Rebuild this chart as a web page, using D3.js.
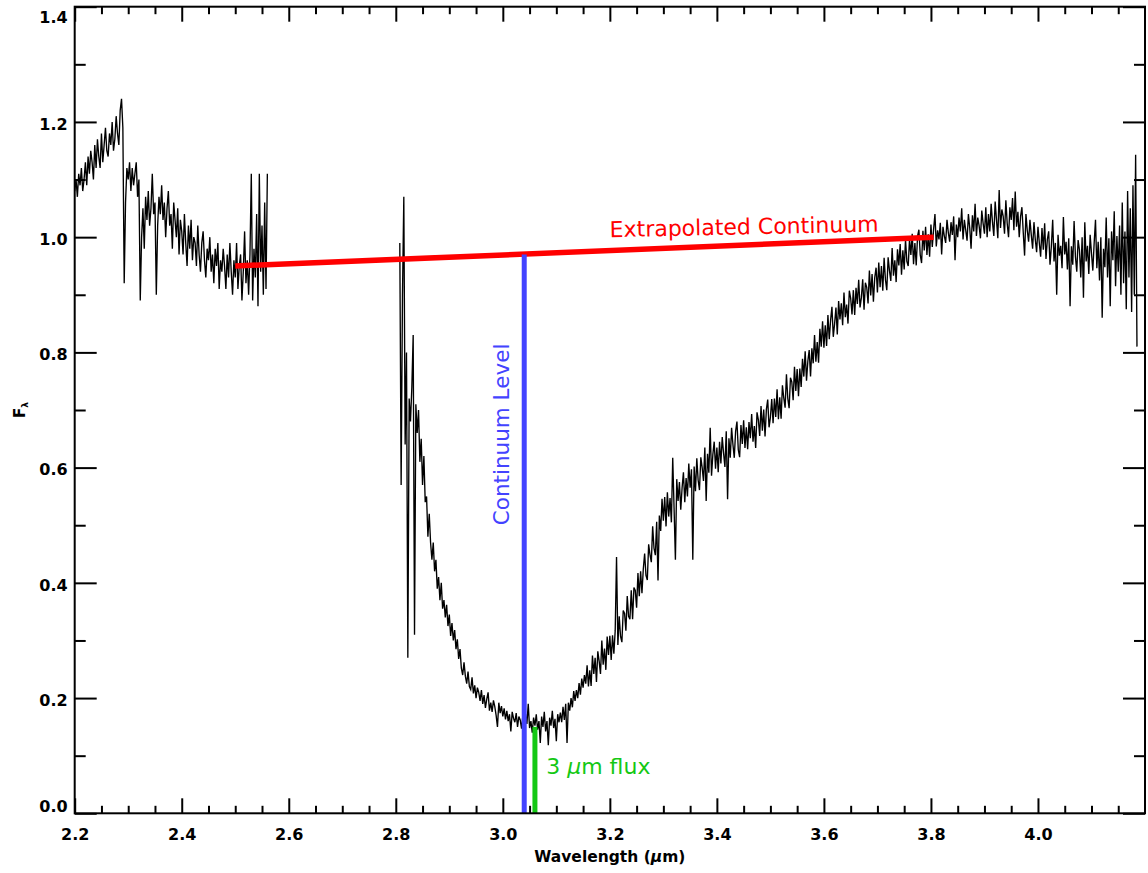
<!DOCTYPE html>
<html>
<head>
<meta charset="utf-8">
<script src="https://cdn.jsdelivr.net/npm/d3@7"></script>
<style>
  html, body { margin: 0; padding: 0; background: #ffffff; }
  svg { display: block; }
</style>
</head>
<body>
<svg id="chart" width="1148" height="873"></svg>
<script>
// ---------------- data ----------------
const xMajorTicks = [2.2, 2.4, 2.6, 2.8, 3.0, 3.2, 3.4, 3.6, 3.8, 4.0];
const yMajorTicks = [0.0, 0.2, 0.4, 0.6, 0.8, 1.0, 1.2, 1.4];

// short-wavelength spectrum segment (uniform wavelength grid)
const seg1Start = 2.2;
const seg1Step = 0.0025;
const seg1Flux = [
  1.08,1.10,1.07,1.11,1.09,1.12,1.08,1.10,1.13,1.09,
  1.14,1.11,1.15,1.13,1.10,1.16,1.12,1.17,1.14,1.12,
  1.18,1.13,1.16,1.19,1.15,1.14,1.18,1.16,1.20,1.15,
  1.17,1.21,1.18,1.16,1.22,1.24,1.19,0.92,1.06,1.12,
  1.10,1.13,1.08,1.12,1.09,1.11,1.13,1.07,1.10,0.89,
  1.00,1.05,0.98,1.07,1.03,1.08,1.02,1.05,1.11,1.04,
  1.06,0.90,1.02,1.07,1.04,1.09,1.03,1.06,1.00,1.05,
  1.08,1.02,1.04,0.98,1.06,1.03,1.00,1.05,0.97,1.03,
  1.01,0.97,1.04,0.99,0.95,1.02,0.98,1.03,0.96,1.00,
  0.99,0.95,1.02,0.97,0.94,0.99,1.01,0.96,0.93,0.98,
  0.96,1.00,0.94,0.97,0.92,0.98,0.95,0.99,0.91,0.96,
  0.94,0.98,0.95,0.91,0.97,0.93,0.99,0.94,0.90,0.96,
  0.93,0.99,0.91,0.95,0.97,0.89,0.94,1.01,0.92,0.96,
  0.90,0.97,1.11,0.89,0.98,0.93,1.04,0.88,1.11,0.94,
  1.02,0.90,1.06,0.91,1.11
];

// long-wavelength spectrum segment (uniform wavelength grid)
const seg2Start = 2.8075;
const seg2Step = 0.0025;
const seg2Flux = [
  0.99,0.57,0.90,1.07,0.64,0.80,0.27,0.72,0.68,0.74,0.83,0.31,0.71,0.66,0.70,0.61,0.65,0.57,0.62,0.54,
  0.55,0.48,0.52,0.47,0.44,0.47,0.42,0.44,0.39,0.41,0.37,0.40,0.355,0.37,0.34,0.362,0.325,0.345,0.308,0.330,
  0.300,0.318,0.285,0.302,0.268,0.285,0.252,0.240,0.262,0.238,0.225,0.246,0.220,0.215,0.236,0.208,0.222,0.200,0.218,0.210,
  0.195,0.214,0.190,0.205,0.183,0.198,0.210,0.178,0.192,0.176,0.196,0.185,0.170,0.150,0.192,0.174,0.186,0.168,0.182,0.163,
  0.178,0.160,0.172,0.142,0.176,0.165,0.158,0.174,0.150,0.168,0.162,0.147,0.170,0.115,0.172,0.155,0.190,0.148,0.160,0.140,
  0.166,0.152,0.172,0.145,0.160,0.122,0.168,0.150,0.176,0.142,0.160,0.118,0.166,0.152,0.178,0.148,0.164,0.125,0.172,0.158,
  0.175,0.158,0.185,0.162,0.190,0.122,0.192,0.178,0.200,0.184,0.212,0.195,0.214,0.200,0.226,0.206,0.234,0.218,0.240,0.225,
  0.257,0.220,0.248,0.221,0.274,0.242,0.270,0.228,0.281,0.264,0.242,0.300,0.258,0.286,0.249,0.307,0.275,0.308,0.266,0.309,
  0.277,0.317,0.445,0.292,0.342,0.307,0.297,0.352,0.347,0.317,0.377,0.342,0.337,0.387,0.337,0.392,0.387,0.357,0.417,0.377,
  0.420,0.382,0.424,0.451,0.413,0.405,0.467,0.449,0.436,0.498,0.460,0.448,0.506,0.404,0.517,0.490,0.546,0.508,0.549,0.498,
  0.557,0.515,0.547,0.505,0.617,0.530,0.440,0.580,0.542,0.575,0.527,0.565,0.592,0.540,0.582,0.550,0.607,0.565,0.597,0.440,
  0.602,0.559,0.616,0.578,0.561,0.618,0.600,0.577,0.635,0.542,0.624,0.591,0.669,0.586,0.623,0.645,0.598,0.635,0.592,0.645,
  0.607,0.653,0.625,0.601,0.663,0.545,0.651,0.617,0.669,0.640,0.617,0.663,0.680,0.631,0.618,0.674,0.641,0.682,0.634,0.670,
  0.632,0.679,0.651,0.693,0.645,0.672,0.634,0.696,0.683,0.655,0.707,0.664,0.701,0.654,0.701,0.718,0.670,0.687,0.719,0.677,
  0.720,0.688,0.736,0.684,0.722,0.685,0.743,0.721,0.704,0.762,0.720,0.703,0.756,0.749,0.717,0.775,0.733,0.771,0.724,0.772,
  0.740,0.789,0.758,0.802,0.751,0.785,0.804,0.758,0.807,0.781,0.830,0.784,0.818,0.782,0.841,0.810,0.854,0.808,0.847,0.811,
  0.865,0.823,0.856,0.879,0.827,0.850,0.878,0.831,0.889,0.857,0.885,0.847,0.904,0.861,0.883,0.850,0.907,0.894,0.866,0.908,
  0.865,0.912,0.884,0.926,0.878,0.895,0.927,0.874,0.921,0.913,0.885,0.942,0.899,0.936,0.888,0.930,0.947,0.904,0.956,0.913,
  0.950,0.907,0.964,0.926,0.908,0.965,0.942,0.924,0.981,0.933,0.960,0.922,0.979,0.951,0.988,0.935,0.977,0.944,0.996,0.958,
  0.950,0.997,0.969,1.006,0.953,0.990,0.951,1.002,1.013,0.969,0.955,1.011,0.977,1.018,0.969,1.005,0.966,1.022,0.983,1.014,
  1.040,0.984,1.012,0.996,1.025,0.970,1.018,1.002,0.990,1.030,1.008,0.992,1.026,1.004,1.036,0.960,1.022,1.000,1.034,1.010,
  1.050,0.996,1.030,1.012,0.994,1.040,1.016,0.980,1.038,1.010,1.058,1.002,1.034,1.020,0.998,1.046,1.024,1.006,1.052,1.000,
  1.040,1.010,1.058,1.026,1.002,1.062,1.030,0.998,1.082,1.016,1.048,1.036,1.006,1.064,1.024,1.000,1.052,1.030,1.068,1.012,
  1.079,1.018,1.044,1.000,1.036,1.052,1.008,0.968,1.040,1.012,0.992,1.030,1.004,0.980,1.026,0.996,0.974,1.018,0.990,0.966,
  1.016,0.978,1.024,0.962,0.996,1.010,0.952,0.984,1.030,0.958,0.990,0.900,1.004,0.968,0.985,0.946,1.035,0.970,0.992,0.944,
  0.998,0.880,0.984,0.952,1.028,0.966,0.940,0.995,0.978,0.930,1.000,0.895,1.026,0.958,0.985,0.936,1.004,0.972,0.942,0.990,
  1.030,0.946,0.992,0.925,1.000,0.860,0.980,0.948,1.034,0.930,0.998,0.880,1.010,0.960,1.045,0.915,1.002,0.940,1.020,0.900,
  1.060,0.920,1.010,0.875,1.080,0.930,1.050,0.870,1.090,0.900,1.143,0.810
];

// annotation lines (data units)
const continuumWavelengths = [2.50, 3.805];
const continuumFlux = [0.95, 1.00];
const continuumLevelWavelength = 3.04;
const continuumLevelFlux = 0.97;
const fluxMarkWavelength = 3.06;
const fluxMarkFlux = 0.15;

// ---------------- drawing ----------------
const svg = d3.select("#chart");
const plot = { left: 74.7, right: 1145, top: 6.7, bottom: 813.3 };

const x = d3.scaleLinear().domain([2.2, 4.2]).range([plot.left, plot.right]);
const y = d3.scaleLinear().domain([0, 1.4]).range([plot.bottom, plot.top]);

const tickFont = "'DejaVu Sans', sans-serif";

svg.append("defs").append("clipPath").attr("id", "clip")
  .append("rect")
  .attr("x", plot.left).attr("y", plot.top)
  .attr("width", plot.right - plot.left).attr("height", plot.bottom - plot.top);

// spectrum
const seg1 = seg1Flux.map((f, i) => [seg1Start + i * seg1Step, f]);
const seg2 = seg2Flux.map((f, i) => [seg2Start + i * seg2Step, f]);
const line = d3.line().x(d => x(d[0])).y(d => y(d[1]));

const specG = svg.append("g").attr("clip-path", "url(#clip)");
[seg1, seg2].forEach(seg => {
  specG.append("path")
    .datum(seg)
    .attr("d", line)
    .attr("fill", "none")
    .attr("stroke", "#000")
    .attr("stroke-width", 1.35)
    .attr("stroke-linejoin", "miter");
});

// extrapolated continuum (red)
svg.append("path")
  .datum(continuumWavelengths.map((w, i) => [w, continuumFlux[i]]))
  .attr("d", line)
  .attr("stroke", "#ff0000")
  .attr("stroke-width", 5.5)
  .attr("fill", "none");

// continuum level (blue)
svg.append("line")
  .attr("x1", x(continuumLevelWavelength)).attr("x2", x(continuumLevelWavelength))
  .attr("y1", y(0)).attr("y2", y(continuumLevelFlux))
  .attr("stroke", "#4343ff").attr("stroke-width", 5);

// 3 micron flux (green)
svg.append("line")
  .attr("x1", x(fluxMarkWavelength)).attr("x2", x(fluxMarkWavelength))
  .attr("y1", y(0)).attr("y2", y(fluxMarkFlux))
  .attr("stroke", "#14c814").attr("stroke-width", 5);

// annotation texts
svg.append("text")
  .attr("transform", `translate(${x(3.2)},${y(1.0)}) rotate(-1.2)`)
  .attr("font-family", tickFont).attr("font-size", 22)
  .attr("fill", "#ff0000")
  .text("Extrapolated Continuum");

svg.append("text")
  .attr("transform", `translate(${x(3.012)},${y(0.5)}) rotate(-90)`)
  .attr("font-family", tickFont).attr("font-size", 21.5)
  .attr("fill", "#4343ff")
  .text("Continuum Level");

const fluxText = svg.append("text")
  .attr("x", x(3.081)).attr("y", y(0.068))
  .attr("font-family", tickFont).attr("font-size", 22)
  .attr("fill", "#14c814");
fluxText.append("tspan").text("3 ");
fluxText.append("tspan").attr("font-style", "italic").text("\u03bc");
fluxText.append("tspan").text("m flux");

// ---------------- axes ----------------
const xMinorTicks = d3.range(2.25, 4.19, 0.05).filter(v => Math.abs(Math.round(v * 5) - v * 5) > 1e-6);
const yMinorTicks = [0.1, 0.3, 0.5, 0.7, 0.9, 1.1, 1.3];

function styleAxis(g) {
  g.select(".domain").remove();
  g.selectAll(".tick line").attr("stroke", "#000").attr("stroke-width", 2);
  g.selectAll(".tick text")
    .attr("fill", "#000")
    .attr("font-family", tickFont)
    .attr("font-weight", "bold")
    .attr("font-size", 16);
}

// bottom
svg.append("g").attr("transform", `translate(0,${plot.bottom})`)
  .call(d3.axisBottom(x).tickValues(xMajorTicks).tickSize(-15).tickPadding(15).tickFormat(d3.format(".1f")))
  .call(styleAxis);
svg.append("g").attr("transform", `translate(0,${plot.bottom})`)
  .call(d3.axisBottom(x).tickValues(xMinorTicks).tickSize(-7.5).tickFormat(""))
  .call(styleAxis);
// top
svg.append("g").attr("transform", `translate(0,${plot.top})`)
  .call(d3.axisTop(x).tickValues(xMajorTicks).tickSize(-15).tickFormat(""))
  .call(styleAxis);
svg.append("g").attr("transform", `translate(0,${plot.top})`)
  .call(d3.axisTop(x).tickValues(xMinorTicks).tickSize(-7.5).tickFormat(""))
  .call(styleAxis);
// left
const leftAxis = svg.append("g").attr("transform", `translate(${plot.left},0)`)
  .call(d3.axisLeft(y).tickValues(yMajorTicks).tickSize(-22).tickPadding(7).tickFormat(d3.format(".1f")))
  .call(styleAxis);
leftAxis.selectAll(".tick text")
  .attr("dy", d => d === 1.4 ? "1.0em" : (d === 0 ? "-0.1em" : "0.45em"));
svg.append("g").attr("transform", `translate(${plot.left},0)`)
  .call(d3.axisLeft(y).tickValues(yMinorTicks).tickSize(-11).tickFormat(""))
  .call(styleAxis);
// right
svg.append("g").attr("transform", `translate(${plot.right},0)`)
  .call(d3.axisRight(y).tickValues(yMajorTicks).tickSize(-22).tickFormat(""))
  .call(styleAxis);
svg.append("g").attr("transform", `translate(${plot.right},0)`)
  .call(d3.axisRight(y).tickValues(yMinorTicks).tickSize(-11).tickFormat(""))
  .call(styleAxis);

// frame
svg.append("rect")
  .attr("x", plot.left).attr("y", plot.top)
  .attr("width", plot.right - plot.left).attr("height", plot.bottom - plot.top)
  .attr("fill", "none").attr("stroke", "#000").attr("stroke-width", 2);

// axis titles
const xTitle = svg.append("text")
  .attr("x", (plot.left + plot.right) / 2).attr("y", 862)
  .attr("text-anchor", "middle")
  .attr("font-family", tickFont).attr("font-weight", "bold").attr("font-size", 15.5)
  .attr("fill", "#000");
xTitle.append("tspan").text("Wavelength (");
xTitle.append("tspan").attr("font-style", "italic").text("\u03bc");
xTitle.append("tspan").text("m)");

const yTitle = svg.append("text")
  .attr("transform", `translate(25,${(plot.top + plot.bottom) / 2 + 8}) rotate(-90)`)
  .attr("font-family", tickFont).attr("font-weight", "bold").attr("font-size", 15)
  .attr("fill", "#000");
yTitle.append("tspan").text("F");
yTitle.append("tspan").attr("font-size", 9).attr("dy", 3).text("\u03bb");
</script>
</body>
</html>
